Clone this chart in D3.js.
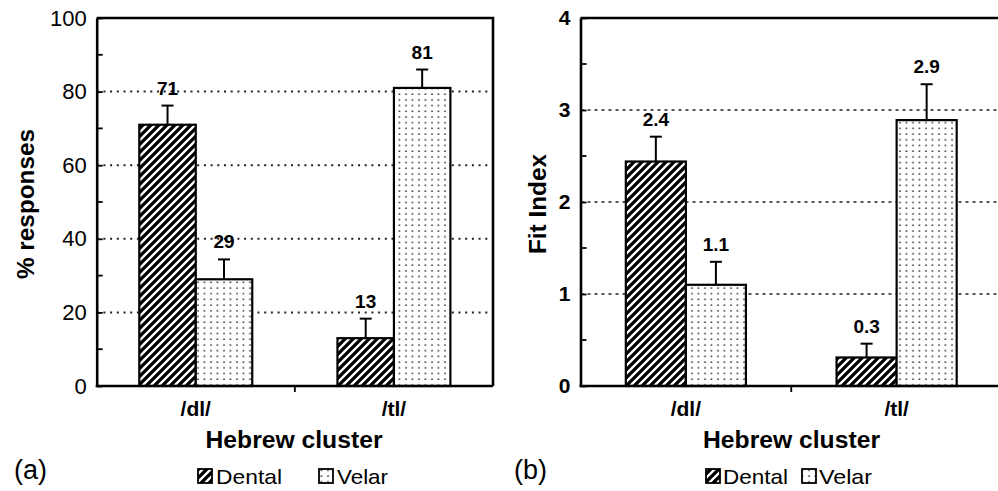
<!DOCTYPE html>
<html>
<head>
<meta charset="utf-8">
<script src="https://cdn.jsdelivr.net/npm/d3@7"></script>
<style>
  html, body { margin: 0; padding: 0; background: #fff; }
  svg { display: block; font-family: "Liberation Sans", Arial, sans-serif; }
</style>
</head>
<body>
<svg id="chart" width="998" height="491"></svg>
<script>
// ---------- data ----------
const categories = ["/dl/", "/tl/"];
const seriesNames = ["Dental", "Velar"];

// panel (a): % responses
const pctDental = [71, 13];
const pctVelar = [29, 81];
const pctDentalErr = [5.2, 5.3];
const pctVelarErr = [5.4, 5.0];
const pctDentalLabels = ["71", "13"];
const pctVelarLabels = ["29", "81"];
const pctTicks = [0, 20, 40, 60, 80, 100];
const pctMinorTicks = [10, 30, 50, 70, 90];
const pctGrid = [20, 40, 60, 80];

// panel (b): Fit Index
const fitDental = [2.44, 0.31];
const fitVelar = [1.1, 2.89];
const fitDentalErr = [0.27, 0.15];
const fitVelarErr = [0.25, 0.39];
const fitDentalLabels = ["2.4", "0.3"];
const fitVelarLabels = ["1.1", "2.9"];
const fitTicks = [0, 1, 2, 3, 4];
const fitMinorTicks = [0.5, 1.5, 2.5, 3.5];
const fitGrid = [1, 2, 3];

// ---------- drawing ----------
const svg = d3.select("#chart");
const defs = svg.append("defs");

// hatch pattern (Dental)
const hatch = defs.append("pattern").attr("id", "hatch")
  .attr("patternUnits", "userSpaceOnUse").attr("width", 8).attr("height", 8);
hatch.append("rect").attr("width", 8).attr("height", 8).attr("fill", "#000");
hatch.append("path").attr("d", "M-2,2 L2,-2 M0,8 L8,0 M6,10 L10,6")
  .attr("stroke", "#fff").attr("stroke-width", 2.3);

// dot pattern (Velar)
const dots = defs.append("pattern").attr("id", "dots")
  .attr("patternUnits", "userSpaceOnUse").attr("width", 6.5).attr("height", 5.7);
dots.append("rect").attr("width", 6.5).attr("height", 5.7).attr("fill", "#fff");
dots.append("circle").attr("cx", 3).attr("cy", 3).attr("r", 0.9).attr("fill", "#333");

const fills = ["url(#hatch)", "url(#dots)"];

function drawPanel(cfg) {
  const g = svg.append("g");
  const y = d3.scaleLinear().domain(cfg.domain).range([cfg.bottom, cfg.top]);
  const x = d3.scaleBand().domain(categories).range([cfg.left, cfg.right]).padding(0);
  const groupW = x.bandwidth() * 0.57;
  const xs = d3.scaleBand().domain(seriesNames).range([0, groupW]).padding(0);

  // grid
  g.append("g").selectAll("line").data(cfg.grid).join("line")
    .attr("x1", cfg.left).attr("x2", cfg.right)
    .attr("y1", d => y(d)).attr("y2", d => y(d))
    .attr("stroke", "#222").attr("stroke-width", cfg.gridWidth)
    .attr("stroke-dasharray", cfg.gridDash);

  // frame
  g.append("path")
    .attr("d", `M${cfg.left},${cfg.top} L${cfg.right},${cfg.top} L${cfg.right},${cfg.bottom}`)
    .attr("fill", "none").attr("stroke", "#000").attr("stroke-width", 2.6);

  // bars
  const series = [
    { name: seriesNames[0], vals: cfg.dental, errs: cfg.dentalErr, labels: cfg.dentalLabels, fill: fills[0] },
    { name: seriesNames[1], vals: cfg.velar, errs: cfg.velarErr, labels: cfg.velarLabels, fill: fills[1] }
  ];
  series.forEach(s => {
    const rows = categories.map((c, i) => ({ c, v: s.vals[i], e: s.errs[i], l: s.labels[i] }));
    const bx = d => x(d.c) + (x.bandwidth() - groupW) / 2 + xs(s.name);
    // error bars
    g.append("g").selectAll("line").data(rows).join("line")
      .attr("x1", d => bx(d) + xs.bandwidth() / 2).attr("x2", d => bx(d) + xs.bandwidth() / 2)
      .attr("y1", d => y(d.v)).attr("y2", d => y(d.v + d.e))
      .attr("stroke", "#000").attr("stroke-width", 2);
    g.append("g").selectAll("line").data(rows).join("line")
      .attr("x1", d => bx(d) + xs.bandwidth() / 2 - 6).attr("x2", d => bx(d) + xs.bandwidth() / 2 + 6)
      .attr("y1", d => y(d.v + d.e)).attr("y2", d => y(d.v + d.e))
      .attr("stroke", "#000").attr("stroke-width", 2);
    g.append("g").selectAll("rect").data(rows).join("rect")
      .attr("x", d => bx(d)).attr("width", xs.bandwidth())
      .attr("y", d => y(d.v)).attr("height", d => y(0) - y(d.v))
      .attr("fill", s.fill).attr("stroke", "#000").attr("stroke-width", 2.2);
    g.append("g").selectAll("text").data(rows).join("text")
      .attr("x", d => bx(d) + xs.bandwidth() / 2)
      .attr("y", d => y(d.v + d.e) - 11)
      .attr("text-anchor", "middle").attr("font-size", 19).attr("font-weight", "bold")
      .text(d => d.l);
  });

  // y axis
  const ya = g.append("g").attr("transform", `translate(${cfg.left},0)`)
    .call(d3.axisLeft(y).tickValues(cfg.ticks).tickSizeInner(-6).tickSizeOuter(0)
      .tickPadding(10).tickFormat(d3.format("d")));
  ya.select(".domain").attr("stroke-width", 2.6);
  ya.selectAll(".tick line").attr("stroke-width", 1.8);
  ya.selectAll(".tick text").attr("font-size", cfg.tickSize).attr("font-weight", cfg.tickWeight)
    .attr("font-family", "Liberation Sans, Arial, sans-serif").attr("fill", "#000");
  g.append("g").selectAll("line").data(cfg.minor).join("line")
    .attr("x1", cfg.left).attr("x2", cfg.left + 6)
    .attr("y1", d => y(d)).attr("y2", d => y(d))
    .attr("stroke", "#000").attr("stroke-width", 1.8);

  // x axis
  g.append("line").attr("x1", cfg.left - 1).attr("x2", cfg.right)
    .attr("y1", y(0)).attr("y2", y(0)).attr("stroke", "#000").attr("stroke-width", 2.6);
  g.append("line").attr("x1", x(categories[1])).attr("x2", x(categories[1]))
    .attr("y1", y(0)).attr("y2", y(0) + 6).attr("stroke", "#000").attr("stroke-width", 1.8);
  g.append("g").selectAll("text").data(categories).join("text")
    .attr("x", d => x(d) + x.bandwidth() / 2).attr("y", y(0) + 30)
    .attr("text-anchor", "middle").attr("font-size", 21).attr("font-weight", "bold")
    .text(d => d);

  // axis titles
  g.append("text").attr("x", cfg.xTitleX).attr("y", 447.5)
    .attr("text-anchor", "middle").attr("font-size", 23).attr("font-weight", "bold")
    .attr("textLength", 177).attr("lengthAdjust", "spacingAndGlyphs")
    .text("Hebrew cluster");
  g.append("text")
    .attr("transform", `translate(${cfg.yTitleX},${(cfg.top + cfg.bottom) / 2 + 2}) rotate(-90)`)
    .attr("text-anchor", "middle").attr("font-size", 23).attr("font-weight", "bold")
    .attr("dy", "0.35em")
    .attr("textLength", cfg.yTitleLen).attr("lengthAdjust", "spacingAndGlyphs")
    .text(cfg.yTitle);

  // panel letter
  g.append("text").attr("x", cfg.letterX).attr("y", 479)
    .attr("font-size", 27).text(cfg.letter);

  // legend
  cfg.legend.forEach((lg, i) => {
    g.append("rect").attr("x", lg.sx).attr("y", 469).attr("width", 14).attr("height", 14)
      .attr("fill", fills[i]).attr("stroke", "#000").attr("stroke-width", 1.8);
    g.append("text").attr("x", lg.tx).attr("y", 484).attr("font-size", 21)
      .attr("textLength", lg.tw).attr("lengthAdjust", "spacingAndGlyphs")
      .text(seriesNames[i]);
  });
}

drawPanel({
  left: 96.7, right: 493, top: 18, bottom: 386,
  domain: [0, 100], ticks: pctTicks, minor: pctMinorTicks, grid: pctGrid,
  gridDash: "2,4.7", gridWidth: 2, tickWeight: "normal", tickSize: 22,
  dental: pctDental, velar: pctVelar, dentalErr: pctDentalErr, velarErr: pctVelarErr,
  dentalLabels: pctDentalLabels, velarLabels: pctVelarLabels,
  xTitleX: 294, yTitleX: 26, yTitle: "% responses", yTitleLen: 150,
  letter: "(a)", letterX: 14,
  legend: [{ sx: 198, tx: 216, tw: 66 }, { sx: 319, tx: 337, tw: 51 }]
});

drawPanel({
  left: 580.5, right: 1002, top: 18, bottom: 386,
  domain: [0, 4], ticks: fitTicks, minor: fitMinorTicks, grid: fitGrid,
  gridDash: "3,4", gridWidth: 1.5, tickWeight: "bold", tickSize: 21,
  dental: fitDental, velar: fitVelar, dentalErr: fitDentalErr, velarErr: fitVelarErr,
  dentalLabels: fitDentalLabels, velarLabels: fitVelarLabels,
  xTitleX: 791.5, yTitleX: 538, yTitle: "Fit Index", yTitleLen: 100,
  letter: "(b)", letterX: 514,
  legend: [{ sx: 706, tx: 723, tw: 65 }, { sx: 802, tx: 819, tw: 53 }]
});
</script>
</body>
</html>
